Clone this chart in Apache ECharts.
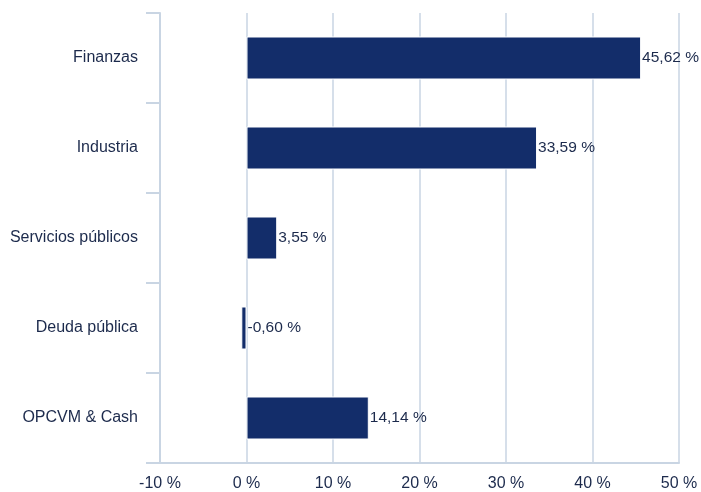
<!DOCTYPE html>
<html><head><meta charset="utf-8">
<script src="https://cdn.jsdelivr.net/npm/echarts@6/dist/echarts.min.js"></script>
<style>html,body{margin:0;padding:0;background:#fff}#c{width:701px;height:492px}</style>
</head><body><div id="c"></div>
<script>
const categories = ["Finanzas", "Industria", "Servicios públicos", "Deuda pública", "OPCVM & Cash"];
const values = [45.62, 33.59, 3.55, -0.60, 14.14];
const xTicks = [-10, 0, 10, 20, 30, 40, 50];

const FONT = 'Liberation Sans, Arial, Helvetica, sans-serif';
const chart = echarts.init(document.getElementById('c'));
const fmt = v => v.toFixed(2).replace('.', ',') + ' %';
chart.setOption({
  animation: false,
  grid: { left: 160, right: 22, top: 13, bottom: 29, containLabel: false },
  xAxis: {
    type: 'value', min: xTicks[0], max: xTicks[xTicks.length - 1], interval: 10,
    axisLine: { show: true, onZero: false, lineStyle: { color: '#c9d5e3', width: 2 } },
    axisTick: { show: false },
    splitLine: { show: true, lineStyle: { color: '#c9d5e3', width: 1.5 } },
    axisLabel: { margin: 13, color: '#1c2a4c', fontSize: 16, fontFamily: FONT, formatter: v => v + ' %' }
  },
  yAxis: {
    type: 'category', inverse: true, data: categories,
    axisLine: { show: true, onZero: false, lineStyle: { color: '#c9d5e3', width: 2 } },
    axisTick: { show: true, length: 14, lineStyle: { color: '#c9d5e3', width: 2 } },
    axisLabel: { margin: 22, color: '#1c2a4c', fontSize: 16, fontFamily: FONT }
  },
  series: [{
    type: 'bar', data: values, barWidth: 43,
    itemStyle: { color: '#132d6a', borderColor: '#ffffff', borderWidth: 1 },
    label: { show: true, position: 'right', distance: 1, color: '#1c2a4c', fontSize: 15.5, fontFamily: FONT, formatter: p => fmt(p.value) }
  }]
});
</script></body></html>
